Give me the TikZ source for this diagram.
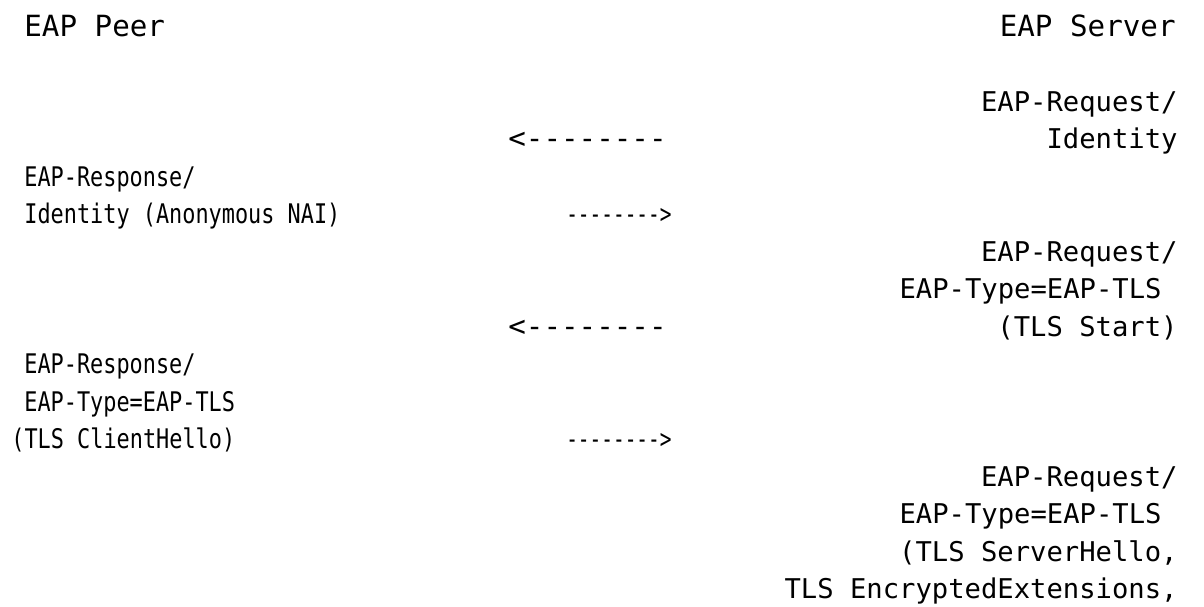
\documentclass[tikz,border=0pt]{standalone}
\usepackage{fontspec}
\newfontfamily\monofont{DejaVu Sans Mono}
\newfontfamily\narrowfont[FakeStretch=0.81]{DejaVu Sans Mono}
\newfontfamily\arrowfont[FakeStretch=0.72]{DejaVu Sans Mono}
\tikzset{
  head/.style={inner sep=0pt, font=\monofont\fontsize{14.6}{18}\selectfont},
  srv/.style={inner sep=0pt, anchor=base east, font=\monofont\fontsize{13.6}{18}\selectfont},
  peer/.style={inner sep=0pt, anchor=base west, font=\narrowfont\fontsize{13.5}{18}\selectfont},
  toserver/.style={inner sep=0pt, anchor=base east, font=\arrowfont\fontsize{13.5}{18}\selectfont},
}
\begin{document}
\begin{tikzpicture}[x=0.5pt,y=-0.5pt]
\fill[white] (0,0) rectangle (1204,606);
\useasboundingbox (0,0) rectangle (1204,606);

\node[head, anchor=base west] (peer) at (24,36) {EAP Peer};
\node[head, anchor=base east] (server) at (1176,36) {EAP Server};

% request identity
\node[srv] (req1) at (1178,111) {EAP-Request/};
\node[srv] (req1b) at (1178,148.5) {Identity};
\node[head, anchor=base west] (m1) at (508,148.5) {<--------};

% response identity
\node[peer] (resp1) at (24,186) {EAP-Response/};
\node[peer] (resp1b) at (24,223.5) {Identity (Anonymous NAI)};
\node[toserver] (m2) at (672,223.5) {-------->};

% tls start
\node[srv] (req2) at (1178,261) {EAP-Request/};
\node[srv] (req2b) at (1162,298.5) {EAP-Type=EAP-TLS};
\node[srv] (req2c) at (1178,336) {(TLS Start)};
\node[head, anchor=base west] (m3) at (508,336) {<--------};

% client hello
\node[peer] (resp2) at (24,373.5) {EAP-Response/};
\node[peer] (resp2b) at (24,411) {EAP-Type=EAP-TLS};
\node[peer] (resp2c) at (11,448.5) {(TLS ClientHello)};
\node[toserver] (m4) at (672,448.5) {-------->};

% server hello
\node[srv] (req3) at (1178,486) {EAP-Request/};
\node[srv] (req3b) at (1162,523.5) {EAP-Type=EAP-TLS};
\node[srv] (req3c) at (1178,561) {(TLS ServerHello,};
\node[srv] (req3d) at (1178,598.5) {TLS EncryptedExtensions,};
\end{tikzpicture}
\end{document}
